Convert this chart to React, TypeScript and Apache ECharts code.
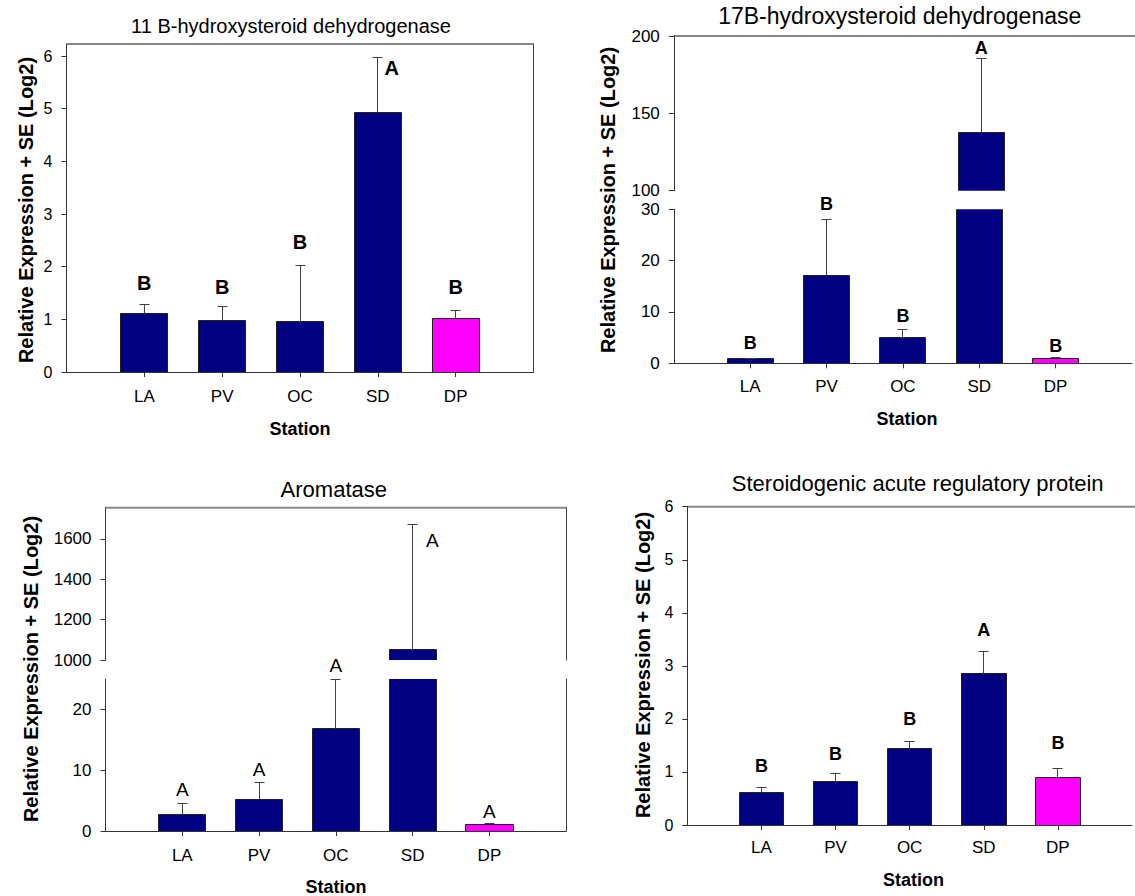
import React, { useEffect, useRef } from "react";
import * as echarts from "echarts";

// ---------- data ----------
const stations = ["LA", "PV", "OC", "SD", "DP"];
const barColors = ["#000080", "#000080", "#000080", "#000080", "#FF00FF"];

const hsd11Mean = [1.107, 0.98, 0.956, 4.92, 1.02];
const hsd11Upper = [1.285, 1.247, 2.02, 5.97, 1.17];
const hsd11Letters = ["B", "B", "B", "A", "B"];

const hsd17Mean = [0.84, 17.15, 5.0, 137.8, 0.95];
const hsd17Upper = [0.97, 28.06, 6.62, 185.4, 1.05];
const hsd17Letters = ["B", "B", "B", "A", "B"];

const aromMean = [2.64, 5.22, 16.8, 1051, 1.1];
const aromUpper = [4.56, 8.03, 25.0, 1670, 1.27];
const aromLetters = ["A", "A", "A", "A", "A"];

const starMean = [0.61, 0.82, 1.44, 2.85, 0.9];
const starUpper = [0.7, 0.97, 1.57, 3.27, 1.07];
const starLetters = ["B", "B", "B", "A", "B"];

const ticks11 = [0, 1, 2, 3, 4, 5, 6];
const ticks17Upper = [100, 150, 200];
const ticks17Lower = [0, 10, 20, 30];
const ticksAromUpper = [1000, 1200, 1400, 1600];
const ticksAromLower = [0, 10, 20];
const ticksStar = [0, 1, 2, 3, 4, 5, 6];

const yTitleText = "Relative Expression + SE (Log2)";
const xTitleText = "Station";

// ---------- styles / layout ----------
const FONT = "'Liberation Sans', Arial, Helvetica, sans-serif";
const AXIS = "#333333";
const FRAME_TOP = "#888888";
const FRAME_RIGHT = "#404040";
const categories = ["", ...stations, ""];

type Seg = { top: number; height: number; min: number; max: number; interval: number; ticks: number[] };
type Panel = {
  title: string;
  mean: number[];
  upper: number[];
  letters: string[];
  left: number;
  width: number;
  rightFrame: boolean;
  segs: Seg[];
  titlePos: [number, number, number];
  yTitlePos: [number, number];
  stationPos: [number, number];
  tickFont: number;
  catFont: number;
  catMargin: number;
  letterFont: number;
  letterBold: boolean;
  letterDx: number[];
  letterDy: number[];
  barRatio: number;
};

const panels: Panel[] = [
  {
    title: "11 B-hydroxysteroid dehydrogenase",
    mean: hsd11Mean, upper: hsd11Upper, letters: hsd11Letters,
    left: 66.5, width: 467, rightFrame: true,
    segs: [{ top: 44, height: 328, min: 0, max: 6.228, interval: 1, ticks: ticks11 }],
    titlePos: [291, 26, 20], yTitlePos: [25.5, 210], stationPos: [300, 429],
    tickFont: 16, catFont: 17, catMargin: 16, letterFont: 20, letterBold: true,
    letterDx: [0, 0, 0, 14, 0], letterDy: [-21.6, -19, -23.4, 10, -23], barRatio: 0.6,
  },
  {
    title: "17B-hydroxysteroid dehydrogenase",
    mean: hsd17Mean, upper: hsd17Upper, letters: hsd17Letters,
    left: 673.8, width: 465.6, rightFrame: false,
    segs: [
      { top: 36, height: 154.7, min: 100, max: 200, interval: 50, ticks: ticks17Upper },
      { top: 209.3, height: 154, min: 0, max: 30, interval: 10, ticks: ticks17Lower },
    ],
    titlePos: [899.7, 16, 23], yTitlePos: [608, 200], stationPos: [907, 419.3],
    tickFont: 17, catFont: 17, catMargin: 15, letterFont: 18, letterBold: true,
    letterDx: [0, 0, 0, 0, 0], letterDy: [-15, -15.3, -13.3, -10.4, -12], barRatio: 0.6,
  },
  {
    title: "Aromatase",
    mean: aromMean, upper: aromUpper, letters: aromLetters,
    left: 105.5, width: 460.7, rightFrame: true,
    segs: [
      { top: 507.7, height: 152.3, min: 1000, max: 1754, interval: 200, ticks: ticksAromUpper },
      { top: 679, height: 152, min: 0, max: 25, interval: 10, ticks: ticksAromLower },
    ],
    titlePos: [333.8, 489.3, 22], yTitlePos: [31, 669], stationPos: [336, 886.7],
    tickFont: 17, catFont: 17, catMargin: 16, letterFont: 19, letterBold: false,
    letterDx: [0, 0, 0, 19.6, 0], letterDy: [-13.3, -13, -14, 16, -11.6], barRatio: 0.615,
  },
  {
    title: "Steroidogenic acute regulatory protein",
    mean: starMean, upper: starUpper, letters: starLetters,
    left: 687.3, width: 453, rightFrame: false,
    segs: [{ top: 506.7, height: 318.3, min: 0, max: 6, interval: 1, ticks: ticksStar }],
    titlePos: [917.7, 483.3, 22], yTitlePos: [642.5, 665], stationPos: [913.4, 880],
    tickFont: 16, catFont: 17, catMargin: 14, letterFont: 18, letterBold: true,
    letterDx: [0, 0, 0, 0, 0], letterDy: [-21.7, -20, -22.4, -21.3, -25.7], barRatio: 0.6,
  },
];

const crisp = (v: number) => Math.round(v - 0.5) + 0.5;

function makeRender(p: Panel, seg: Seg) {
  return (params: any, api: any) => {
    const cat = api.value(0);
    const mean = api.value(1);
    const up = api.value(2);
    const i = api.value(3);
    const cs = params.coordSys;
    const top = cs.y;
    const bottom = cs.y + cs.height;
    const base = api.coord([cat, 0]);
    const vPt = api.coord([cat, mean]);
    const uPt = api.coord([cat, up]);
    const bw = api.size([1, 0])[0] * p.barRatio;
    const cx = vPt[0];
    const children: any[] = [];
    const y1 = Math.max(vPt[1], top);
    const y2 = Math.min(base[1], bottom);
    const l = crisp(cx - bw / 2);
    const r = crisp(cx + bw / 2);
    const edge = { stroke: "#202020", lineWidth: 1, fill: "none" };
    if (y2 > y1) {
      children.push({ type: "rect", shape: { x: l, y: y1, width: r - l, height: y2 - y1 }, style: { fill: barColors[i] } });
      if (vPt[1] >= top - 0.5) {
        const yt = crisp(y1);
        children.push({ type: "polyline", shape: { points: [[l, y2], [l, yt], [r, yt], [r, y2]] }, style: edge });
      } else {
        children.push({ type: "line", shape: { x1: l, y1: y1, x2: l, y2: y2 }, style: edge });
        children.push({ type: "line", shape: { x1: r, y1: y1, x2: r, y2: y2 }, style: edge });
      }
    }
    // error bar (upper SE only)
    const e1 = Math.min(vPt[1], bottom);
    const e2 = Math.max(uPt[1], top);
    const ex = crisp(cx);
    if (e1 > e2) {
      children.push({ type: "line", shape: { x1: ex, y1: e1, x2: ex, y2: e2 }, style: { stroke: "#404040", lineWidth: 1 } });
    }
    if (uPt[1] >= top - 1 && uPt[1] <= bottom + 1) {
      const cy = crisp(uPt[1]);
      children.push({ type: "line", shape: { x1: ex - 5, y1: cy, x2: ex + 5, y2: cy }, style: { stroke: "#404040", lineWidth: 1 } });
      children.push({
        type: "text",
        x: cx + p.letterDx[i],
        y: uPt[1] + p.letterDy[i],
        style: {
          text: p.letters[i],
          fontSize: p.letterFont,
          fontWeight: p.letterBold ? "bold" : "normal",
          fontFamily: FONT,
          fill: "#000",
          align: "center",
          verticalAlign: "middle",
        },
      });
    }
    return { type: "group", children };
  };
}

function buildOption() {
  const grid: any[] = [];
  const xAxis: any[] = [];
  const yAxis: any[] = [];
  const series: any[] = [];
  const graphic: any[] = [];

  panels.forEach((p) => {
    p.segs.forEach((seg, si) => {
      const g = grid.length;
      grid.push({ left: p.left, top: seg.top, width: p.width, height: seg.height, containLabel: false });
      const isLast = si === p.segs.length - 1;
      const xi = xAxis.length;
      xAxis.push({
        type: "category",
        gridIndex: g,
        data: categories,
        boundaryGap: false,
        show: isLast,
        position: "bottom",
        axisLine: { show: true, onZero: false, lineStyle: { color: AXIS, width: 1 } },
        axisTick: {
          show: true,
          length: 5,
          inside: false,
          interval: (idx: number) => idx >= 1 && idx <= 5,
          lineStyle: { color: AXIS },
        },
        axisLabel: { interval: 0, margin: p.catMargin, fontSize: p.catFont, fontFamily: FONT, color: "#000" },
        splitLine: { show: false },
      });
      const yi = yAxis.length;
      yAxis.push({
        type: "value",
        gridIndex: g,
        min: seg.min,
        max: seg.max,
        interval: seg.interval,
        position: "left",
        axisLine: { show: true, onZero: false, lineStyle: { color: AXIS, width: 1 } },
        axisTick: { show: true, length: 5, inside: false, customValues: seg.ticks, lineStyle: { color: AXIS } },
        axisLabel: {
          customValues: seg.ticks,
          margin: 14,
          fontSize: p.tickFont,
          fontFamily: FONT,
          color: "#000",
          formatter: (v: number) => (seg.ticks.indexOf(v) >= 0 ? String(v) : ""),
        },
        splitLine: { show: false },
      });
      if (p.rightFrame) {
        yAxis.push({
          type: "value",
          gridIndex: g,
          min: 0,
          max: 1,
          position: "right",
          axisLine: { show: true, onZero: false, lineStyle: { color: FRAME_RIGHT, width: 1 } },
          axisTick: { show: false },
          axisLabel: { show: false },
          splitLine: { show: false },
        });
      }
      series.push({
        type: "custom",
        xAxisIndex: xi,
        yAxisIndex: yi,
        clip: false,
        z: 3,
        renderItem: makeRender(p, seg),
        encode: { x: 0, y: [1, 2] },
        data: p.mean.map((m, i) => [i + 1, m, p.upper[i], i]),
      });
    });

    // top frame line of the panel
    const t = p.segs[0].top;
    graphic.push({
      type: "line",
      shape: { x1: p.left, y1: t, x2: p.left + p.width, y2: t },
      style: { stroke: FRAME_TOP, lineWidth: 2 },
    });
    graphic.push({
      type: "text",
      x: p.titlePos[0],
      y: p.titlePos[1],
      style: { text: p.title, fontSize: p.titlePos[2], fontFamily: FONT, fill: "#000", align: "center", verticalAlign: "middle" },
    });
    graphic.push({
      type: "text",
      x: p.yTitlePos[0],
      y: p.yTitlePos[1],
      rotation: Math.PI / 2,
      style: { text: yTitleText, fontSize: 20, fontWeight: "bold", fontFamily: FONT, fill: "#000", align: "center", verticalAlign: "middle" },
    });
    graphic.push({
      type: "text",
      x: p.stationPos[0],
      y: p.stationPos[1],
      style: { text: xTitleText, fontSize: 18, fontWeight: "bold", fontFamily: FONT, fill: "#000", align: "center", verticalAlign: "middle" },
    });
  });

  return {
    animation: false,
    backgroundColor: "#ffffff",
    grid,
    xAxis,
    yAxis,
    series,
    graphic,
  };
}

export default function App() {
  const ref = useRef<HTMLDivElement>(null);
  useEffect(() => {
    document.body.style.margin = "0";
    const chart = echarts.init(ref.current!, null, { renderer: "svg" });
    chart.setOption(buildOption() as any);
    return () => chart.dispose();
  }, []);
  return <div ref={ref} style={{ width: 1135, height: 896, background: "#fff" }} />;
}
